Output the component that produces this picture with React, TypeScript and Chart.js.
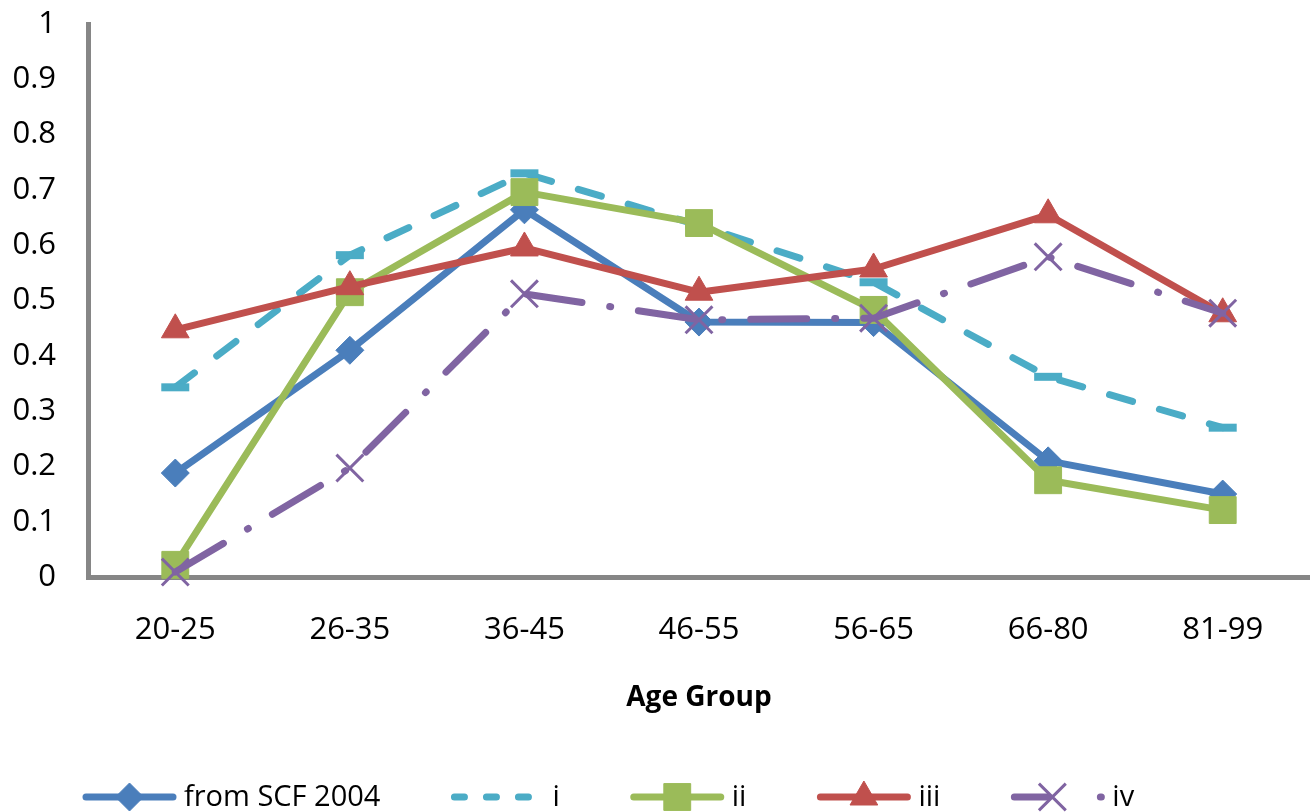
import React, { useEffect, useRef } from 'react';
import { Chart, registerables } from 'chart.js';
import { drawPoint } from 'chart.js/helpers';

Chart.register(...registerables);

const AGE_GROUPS = ['20-25', '26-35', '36-45', '46-55', '56-65', '66-80', '81-99'];
const SCF_2004 = [0.188, 0.41, 0.664, 0.461, 0.46, 0.21, 0.15];
const SERIES_I = [0.343, 0.582, 0.73, 0.636, 0.533, 0.362, 0.27];
const SERIES_II = [0.022, 0.515, 0.696, 0.64, 0.483, 0.175, 0.121];
const SERIES_III = [0.447, 0.525, 0.595, 0.515, 0.557, 0.655, 0.476];
const SERIES_IV = [0.009, 0.197, 0.512, 0.465, 0.468, 0.579, 0.477];
const Y_TICKS = [0, 0.1, 0.2, 0.3, 0.4, 0.5, 0.6, 0.7, 0.8, 0.9, 1];
const Y_TICK_LABELS = ['0', '0.1', '0.2', '0.3', '0.4', '0.5', '0.6', '0.7', '0.8', '0.9', '1'];

const FONT = '"Open Sans", "Noto Sans", sans-serif';
const AXIS_GREY = '#868686';

// Bottom legend: a short line sample (with its dash and marker) followed by the label
const bottomLegend = {
  id: 'bottomLegend',
  afterDraw(chart: any) {
    const ctx = chart.ctx as CanvasRenderingContext2D;
    const y = 797;
    const sample = 95;
    let x = 82;
    ctx.save();
    ctx.font = `29px ${FONT}`;
    ctx.textBaseline = 'middle';
    chart.data.datasets.forEach((ds: any) => {
      ctx.save();
      ctx.strokeStyle = ds.borderColor;
      ctx.lineWidth = ds.borderWidth;
      ctx.lineCap = 'round';
      ctx.setLineDash(ds.legendDash || []);
      ctx.beginPath();
      ctx.moveTo(x + 4, y);
      ctx.lineTo(x + sample - 4, y);
      ctx.stroke();
      ctx.restore();
      if (ds.pointStyle !== 'line') {
        ctx.save();
        ctx.fillStyle = ds.pointBackgroundColor;
        ctx.strokeStyle = ds.pointBorderColor;
        ctx.lineWidth = ds.pointBorderWidth;
        drawPoint(
          ctx,
          { pointStyle: ds.pointStyle, rotation: 0, radius: ds.pointRadius, borderWidth: ds.pointBorderWidth },
          x + (ds.legendMarkerAt ?? sample / 2),
          y
        );
        ctx.restore();
      }
      ctx.fillStyle = '#000';
      ctx.fillText(ds.label, x + sample + 7, y + 1);
      x += sample + 7 + ctx.measureText(ds.label).width + 70;
    });
    ctx.restore();
  },
};

export default function App() {
  const canvasRef = useRef<HTMLCanvasElement | null>(null);

  useEffect(() => {
    const canvas = canvasRef.current;
    if (!canvas) return;

    const line = (label: string, data: number[], color: string, extra: any) => ({
      label,
      data,
      borderColor: color,
      backgroundColor: color,
      pointBackgroundColor: color,
      pointBorderColor: color,
      borderWidth: 7,
      tension: 0,
      fill: false,
      clip: false,
      borderJoinStyle: 'round',
      ...extra,
    });

    const chart = new Chart(canvas, {
      type: 'line',
      data: {
        labels: AGE_GROUPS,
        datasets: [
          line('from SCF 2004', SCF_2004, '#4A7EBB', {
            pointStyle: 'rectRot', pointRadius: 14, pointBorderWidth: 1, order: 5,
          }),
          line('i', SERIES_I, '#4BACC6', {
            pointStyle: 'line', pointRadius: 14, pointBorderWidth: 8, order: 4,
            borderDash: [24, 28], borderCapStyle: 'round', legendDash: [10, 22],
          }),
          line('ii', SERIES_II, '#9BBB59', {
            pointStyle: 'rect', pointRadius: 19, pointBorderWidth: 1, order: 3,
          }),
          line('iii', SERIES_III, '#C0504D', {
            pointStyle: 'triangle', pointRadius: 16, pointBorderWidth: 1, order: 2,
          }),
          line('iv', SERIES_IV, '#8064A2', {
            pointStyle: 'crossRot', pointRadius: 19, pointBorderWidth: 3, order: 1,
            borderDash: [56, 28, 1, 28], borderCapStyle: 'round',
            legendDash: [34, 52, 1, 200], legendMarkerAt: 42,
          }),
        ],
      },
      options: {
        responsive: false,
        animation: false,
        layout: { autoPadding: false, padding: { top: 24, left: 0, right: 0, bottom: 0 } },
        plugins: {
          legend: { display: false },
          tooltip: { enabled: false },
        },
        scales: {
          x: {
            type: 'category',
            offset: true,
            grid: { display: false, drawTicks: false },
            border: { display: true, color: AXIS_GREY, width: 5 },
            ticks: {
              font: { family: FONT, size: 31 },
              color: '#000',
              padding: 35,
              maxRotation: 0,
              autoSkip: false,
            },
            title: {
              display: true,
              text: 'Age Group',
              color: '#000',
              font: { family: FONT, size: 28, weight: 'bold' },
              padding: { top: 0, bottom: 97 },
            },
            afterFit: (s: any) => {
              s.height = 235;
              s.paddingLeft = 0;
              s.paddingRight = 0;
            },
          },
          y: {
            min: 0,
            max: 1,
            grid: { display: false, drawTicks: false },
            border: { display: true, color: AXIS_GREY, width: 5 },
            afterBuildTicks: (s: any) => { s.ticks = Y_TICKS.map((value) => ({ value })); },
            ticks: {
              font: { family: FONT, size: 31 },
              color: '#000',
              padding: 32,
              callback: (_v: any, i: number) => Y_TICK_LABELS[i],
            },
            afterFit: (s: any) => {
              s.width = 88;
              s.paddingTop = 0;
              s.paddingBottom = 0;
            },
          },
        },
      } as any,
      plugins: [bottomLegend],
    });

    return () => chart.destroy();
  }, []);

  return (
    <div style={{ position: 'absolute', left: 0, top: 0, width: 1310, height: 812, background: '#fff' }}>
      <canvas ref={canvasRef} width={1310} height={812} />
    </div>
  );
}
